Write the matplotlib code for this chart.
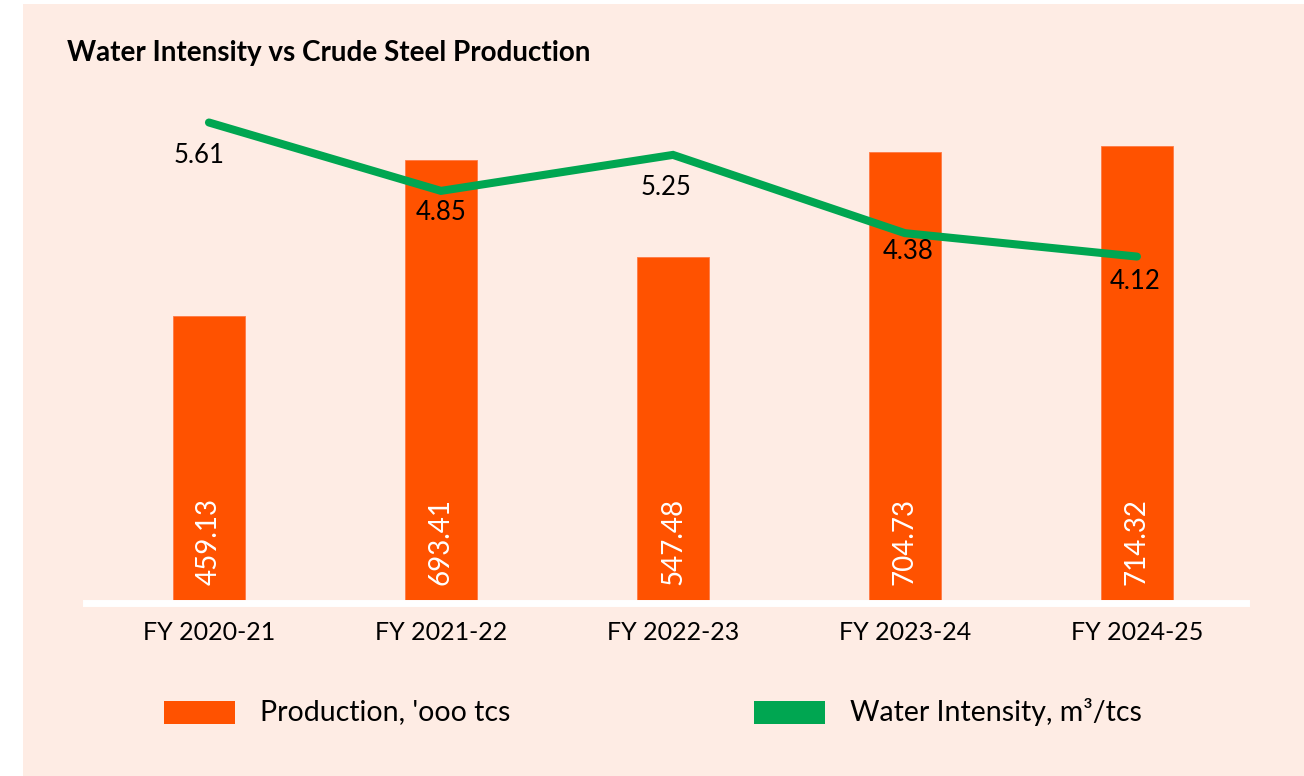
import numpy as np
import matplotlib.pyplot as plt
from matplotlib.patches import Rectangle
from matplotlib.transforms import blended_transform_factory

# --- data ---
years = ['FY 2020-21', 'FY 2021-22', 'FY 2022-23', 'FY 2023-24', 'FY 2024-25']
production = [459.13, 693.41, 547.48, 704.73, 714.32]   # '000 tcs
water_intensity = [5.61, 4.85, 5.25, 4.38, 4.12]        # m3/tcs

# --- style ---
BG = '#FEECE4'
ORANGE = '#FF5200'
GREEN = '#00A651'
FONT = 'Lato'

plt.rcParams['font.family'] = [FONT, 'DejaVu Sans']

fig = plt.figure(figsize=(13.04, 7.76), dpi=100)
fig.patch.set_facecolor('white')
W, H = 1304, 776

# peach panel behind everything
fig.add_artist(Rectangle((23 / W, 0), 1 - 23 / W, 1 - 4 / H, transform=fig.transFigure,
                         facecolor=BG, edgecolor='none', zorder=0))

# axes box in pixel terms: x 86..1246, y 100..603
ax = fig.add_axes([86 / W, 1 - 603 / H, 1160 / W, 503 / H])
ax.set_facecolor('none')
x = np.arange(len(years))

bars = ax.bar(x, production, width=0.31, color=ORANGE, edgecolor='#FF7A45', linewidth=0.6, zorder=2)
ax.set_ylim(28, 783)
ax.set_xlim(-0.53, 4.47)

for spine in ['top', 'left', 'right']:
    ax.spines[spine].set_visible(False)
ax.spines['bottom'].set_color('white')
ax.spines['bottom'].set_linewidth(5)
ax.spines['bottom'].set_zorder(3)
ax.set_yticks([])
ax.set_xticks(x)
ax.set_xticklabels(years, fontsize=18)
ax.tick_params(axis='x', length=0, pad=13)

# production values written inside the bars
trans = blended_transform_factory(ax.transData, ax.transAxes)
for xi, v in zip(x, production):
    ax.text(xi, 0.036, f'{v:.2f}', transform=trans, rotation=90, ha='center', va='bottom',
            color='white', fontsize=20, zorder=4)

# water intensity on its own scale
ax2 = ax.twinx()
ax2.set_ylim(0.27, 5.86)
ax2.set_axis_off()
ax2.plot(x, water_intensity, color=GREEN, linewidth=5.8, solid_capstyle='round',
         solid_joinstyle='miter', zorder=5)

label_offsets = [(-10, -33), (0, -22), (-7, -33), (3, -18), (-2, -25)]
for xi, v, (dx, dy) in zip(x, water_intensity, label_offsets):
    ax2.annotate(f'{v:.2f}', (xi, v), xytext=(dx * 0.72, dy * 0.72), textcoords='offset points',
                 ha='center', va='center', fontsize=18.5, color='black', zorder=6)

# title
fig.text(67 / W, 1 - 53 / H, 'Water Intensity vs Crude Steel Production', fontsize=20,
         fontweight='bold', ha='left', va='center')

# legend
legend_items = [("Production, 'ooo tcs", ORANGE, 164), ('Water Intensity, m³/tcs', GREEN, 754)]
for text, color, px in legend_items:
    fig.add_artist(Rectangle((px / W, 1 - 724 / H), 71 / W, 23 / H, transform=fig.transFigure,
                             facecolor=color, edgecolor='none'))
    fig.text((px + 96) / W, 1 - 712 / H, text, fontsize=20.5, ha='left', va='center')

fig.savefig('out.png', dpi=100, facecolor=fig.get_facecolor())
